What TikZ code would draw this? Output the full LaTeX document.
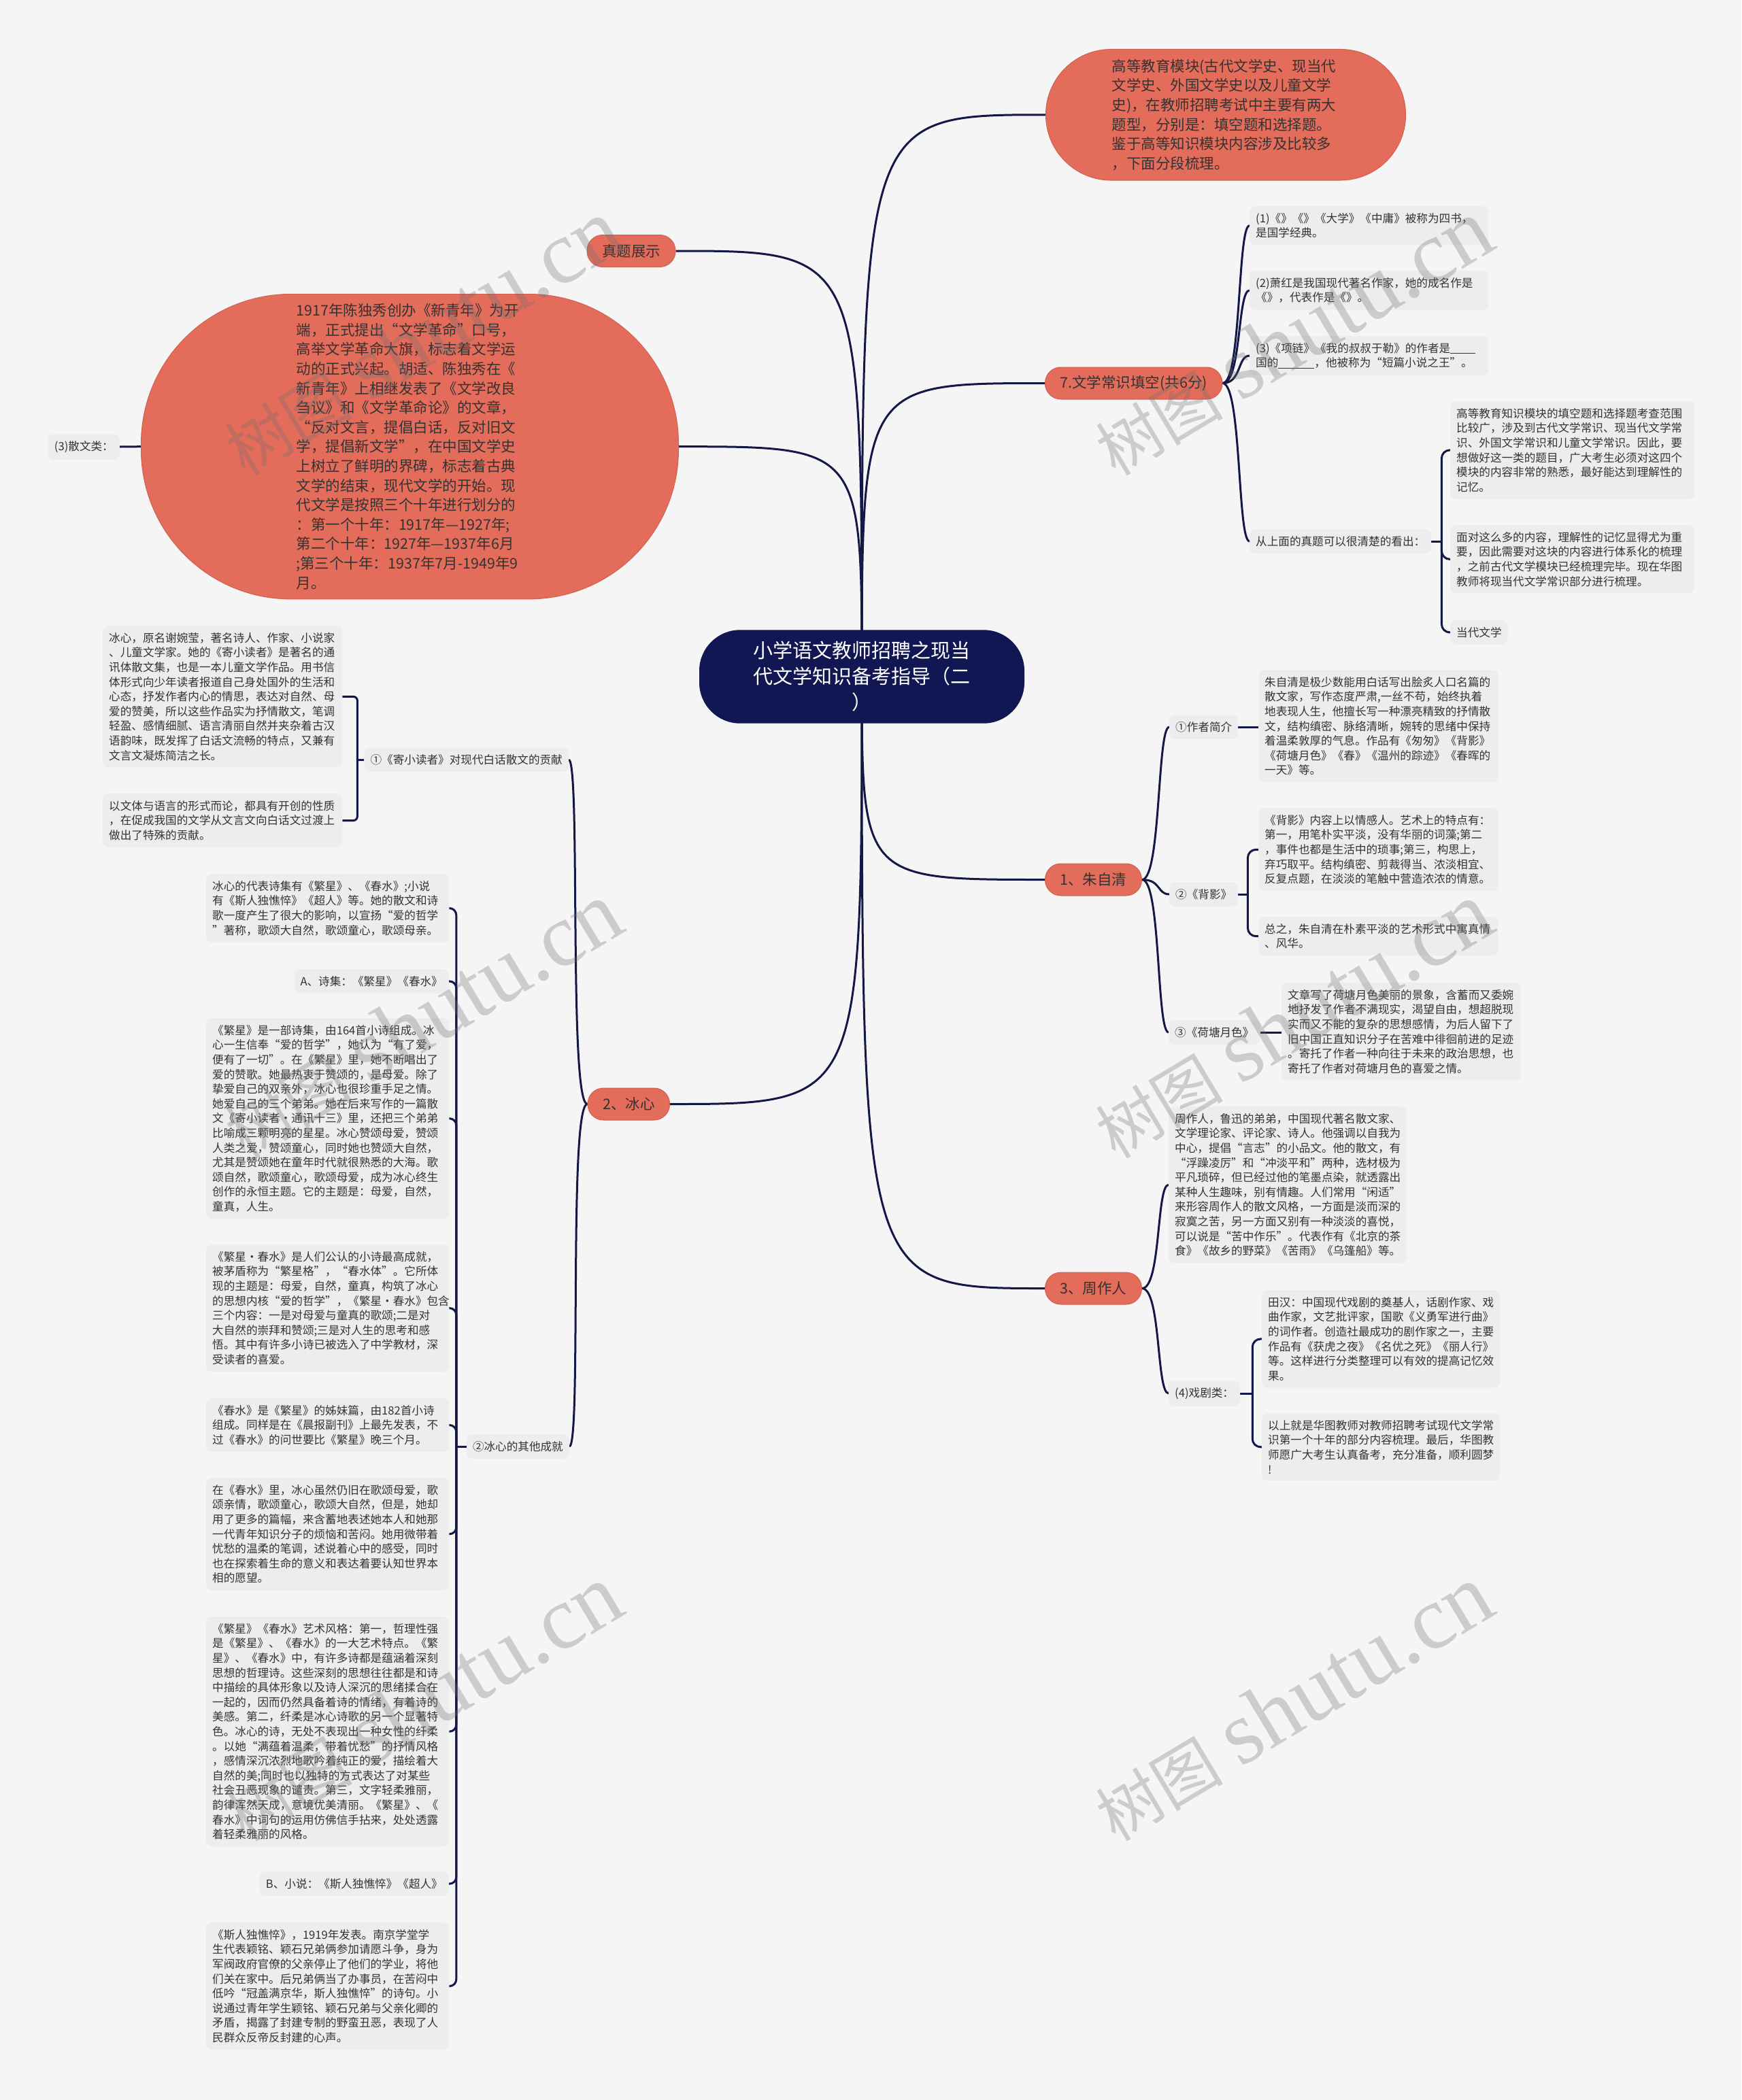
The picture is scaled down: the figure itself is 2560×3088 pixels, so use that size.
\documentclass[tikz,border=0pt]{standalone}
\usepackage{fontspec}
\newfontfamily\cjk{Noto Sans CJK SC}
\newfontfamily\wmserif{Liberation Serif}
\usetikzlibrary{backgrounds}
\definecolor{bgc}{RGB}{245,245,245}
\definecolor{navy}{RGB}{17,23,82}
\definecolor{linec}{RGB}{20,24,70}
\definecolor{orng}{RGB}{228,108,90}
\definecolor{orngd}{RGB}{208,96,80}
\definecolor{boxc}{RGB}{237,237,237}
\definecolor{txt}{RGB}{51,51,51}
\definecolor{wmc}{RGB}{110,110,110}
\tikzset{
  conn/.style={draw=linec, line width=3pt},
  leaf/.style={fill=boxc, rounded corners=8pt, inner xsep=9pt, inner ysep=10pt, align=left, text=txt, font={\cjk\fontsize{16.6}{21.6}\selectfont}},
  onode/.style={fill=orng, draw=orngd, line width=1pt, text=txt, font={\cjk\fontsize{21.5}{28.5}\selectfont}, inner xsep=22pt, inner ysep=8pt, minimum height=47pt, rounded corners=23pt},
  obig/.style={fill=orng, draw=orngd, line width=1pt, text=txt, align=left, font={\cjk\fontsize{21.5}{28.6}\selectfont}},
  ctr/.style={fill=navy, text=white, align=center, text width=330pt, inner xsep=74pt, inner ysep=17pt, rounded corners=60pt, font={\cjk\fontsize{29}{38}\selectfont}},
  wmk/.style={text=wmc, text opacity=0.30, inner sep=0pt}
}
\begin{document}
\begin{tikzpicture}[x=1pt,y=-1pt]
\useasboundingbox (0,0) rectangle (2560,3088);

% ---------- centre ----------
\node[ctr] (ct) at (1267,995) {小学语文教师招聘之现当\\代文学知识备考指导（二\\）};

% ---------- top right big orange ----------
\node[obig, anchor=north west, text width=335pt, inner xsep=97pt, inner ysep=14.5pt, rounded corners=96pt] (n0) at (1537,72) {高等教育模块(古代文学史、现当代\\文学史、外国文学史以及儿童文学\\史)，在教师招聘考试中主要有两大\\题型，分别是：填空题和选择题。\\鉴于高等知识模块内容涉及比较多\\，下面分段梳理。};

% ---------- left big orange ----------
\node[obig, anchor=north west, text width=334pt, inner xsep=228pt, inner ysep=14pt, rounded corners=220pt] (bo) at (207,432) {1917年陈独秀创办《新青年》为开\\端，正式提出“文学革命”口号，\\高举文学革命大旗，标志着文学运\\动的正式兴起。胡适、陈独秀在《\\新青年》上相继发表了《文学改良\\刍议》和《文学革命论》的文章，\\“反对文言，提倡白话，反对旧文\\学，提倡新文学”，在中国文学史\\上树立了鲜明的界碑，标志着古典\\文学的结束，现代文学的开始。现\\代文学是按照三个十年进行划分的\\：第一个十年：1917年—1927年;\\第二个十年：1927年—1937年6月\\;第三个十年：1937年7月-1949年9\\月。};
\node[leaf, anchor=east] (sanwen) at (176,657) {(3)散文类：};

\node[onode] (zt) at (928,369) {真题展示};

% ---------- main branches ----------
\node[onode, anchor=west] (n7) at (1536,563.5) {7.文学常识填空(共6分)};
\node[onode, anchor=west] (n1) at (1536,1293.5) {1、朱自清};
\node[onode, anchor=west] (n3) at (1536,1894.5) {3、周作人};
\node[onode, anchor=east] (n2) at (985,1623.5) {2、冰心};

% ---------- 7. branch ----------
\node[leaf, anchor=north west, text width=333pt] (q1) at (1837,303) {(1)《》《》《大学》《中庸》被称为四书，\\是国学经典。};
\node[leaf, anchor=north west, text width=333pt] (q2) at (1837,398) {(2)萧红是我国现代著名作家，她的成名作是\\《》，代表作是《》。};
\node[leaf, anchor=north west, text width=333pt] (q3) at (1837,494) {(3)《项链》《我的叔叔于勒》的作者是\rule[-2pt]{37pt}{1pt}\\国的\rule[-2pt]{53pt}{1pt}，他被称为“短篇小说之王”。};
\node[leaf, anchor=west] (qs) at (1837,796) {从上面的真题可以很清楚的看出：};
\node[leaf, anchor=north west, text width=341pt] (r1) at (2132,590) {高等教育知识模块的填空题和选择题考查范围\\比较广，涉及到古代文学常识、现当代文学常\\识、外国文学常识和儿童文学常识。因此，要\\想做好这一类的题目，广大考生必须对这四个\\模块的内容非常的熟悉，最好能达到理解性的\\记忆。};
\node[leaf, anchor=north west, text width=341pt] (r2) at (2132,772) {面对这么多的内容，理解性的记忆显得尤为重\\要，因此需要对这块的内容进行体系化的梳理\\，之前古代文学模块已经梳理完毕。现在华图\\教师将现当代文学常识部分进行梳理。};
\node[leaf, anchor=north west] (r3) at (2132,912) {当代文学};

% ---------- 朱自清 branch ----------
\node[leaf, anchor=north west, text width=334pt] (a1t) at (1850,985) {朱自清是极少数能用白话写出脍炙人口名篇的\\散文家，写作态度严肃,一丝不苟，始终执着\\地表现人生，他擅长写一种漂亮精致的抒情散\\文，结构缜密、脉络清晰，婉转的思绪中保持\\着温柔敦厚的气息。作品有《匆匆》《背影》\\《荷塘月色》《春》《温州的踪迹》《春晖的\\一天》等。};
\node[leaf, anchor=west] (a1) at (1719,1069) {①作者简介};
\node[leaf, anchor=west] (a2) at (1719,1315) {②《背影》};
\node[leaf, anchor=north west, text width=334pt] (a2t1) at (1850,1188) {《背影》内容上以情感人。艺术上的特点有：\\第一，用笔朴实平淡，没有华丽的词藻;第二\\，事件也都是生活中的琐事;第三，构思上，\\弃巧取平。结构缜密、剪裁得当、浓淡相宜、\\反复点题，在淡淡的笔触中营造浓浓的情意。};
\node[leaf, anchor=north west, text width=334pt] (a2t2) at (1850,1348) {总之，朱自清在朴素平淡的艺术形式中寓真情\\、风华。};
\node[leaf, anchor=west] (a3) at (1718,1518) {③《荷塘月色》};
\node[leaf, anchor=north west, text width=334pt] (a3t) at (1884,1445) {文章写了荷塘月色美丽的景象，含蓄而又委婉\\地抒发了作者不满现实，渴望自由，想超脱现\\实而又不能的复杂的思想感情，为后人留下了\\旧中国正直知识分子在苦难中徘徊前进的足迹\\。寄托了作者一种向往于未来的政治思想，也\\寄托了作者对荷塘月色的喜爱之情。};

% ---------- 周作人 branch ----------
\node[leaf, anchor=north west, text width=332pt] (b1) at (1718,1627) {周作人，鲁迅的弟弟，中国现代著名散文家、\\文学理论家、评论家、诗人。他强调以自我为\\中心，提倡“言志”的小品文。他的散文，有\\“浮躁凌厉”和“冲淡平和”两种，选材极为\\平凡琐碎，但已经过他的笔墨点染，就透露出\\某种人生趣味，别有情趣。人们常用“闲适”\\来形容周作人的散文风格，一方面是淡而深的\\寂寞之苦，另一方面又别有一种淡淡的喜悦，\\可以说是“苦中作乐”。代表作有《北京的茶\\食》《故乡的野菜》《苦雨》《乌篷船》等。};
\node[leaf, anchor=west] (b2) at (1718,2049) {(4)戏剧类：};
\node[leaf, anchor=north west, text width=332pt] (tian) at (1855,1897) {田汉：中国现代戏剧的奠基人，话剧作家、戏\\曲作家，文艺批评家，国歌《义勇军进行曲》\\的词作者。创造社最成功的剧作家之一，主要\\作品有《获虎之夜》《名优之死》《丽人行》\\等。这样进行分类整理可以有效的提高记忆效\\果。};
\node[leaf, anchor=north west, text width=332pt] (yis) at (1855,2078) {以上就是华图教师对教师招聘考试现代文学常\\识第一个十年的部分内容梳理。最后，华图教\\师愿广大考生认真备考，充分准备，顺利圆梦\\!};

% ---------- 冰心 branch ----------
\node[leaf, anchor=east] (c1) at (836,1117) {①《寄小读者》对现代白话散文的贡献};
\node[leaf, anchor=north west, text width=334pt] (e1) at (151,920) {冰心，原名谢婉莹，著名诗人、作家、小说家\\、儿童文学家。她的《寄小读者》是著名的通\\讯体散文集，也是一本儿童文学作品。用书信\\体形式向少年读者报道自己身处国外的生活和\\心态，抒发作者内心的情思，表达对自然、母\\爱的赞美，所以这些作品实为抒情散文，笔调\\轻盈、感情细腻、语言清丽自然并夹杂着古汉\\语韵味，既发挥了白话文流畅的特点，又兼有\\文言文凝炼简洁之长。};
\node[leaf, anchor=north west, text width=334pt] (e2) at (151,1167) {以文体与语言的形式而论，都具有开创的性质\\，在促成我国的文学从文言文向白话文过渡上\\做出了特殊的贡献。};

\node[leaf, anchor=east] (c2) at (837,2127) {②冰心的其他成就};
\node[leaf, anchor=north west, text width=339pt] (d1) at (303,1285) {冰心的代表诗集有《繁星》、《春水》;小说\\有《斯人独憔悴》《超人》等。她的散文和诗\\歌一度产生了很大的影响，以宣扬“爱的哲学\\”著称，歌颂大自然，歌颂童心，歌颂母亲。};
\node[leaf, anchor=north east] (d2) at (660,1425) {A、诗集：《繁星》《春水》};
\node[leaf, anchor=north west, text width=339pt] (d3) at (303,1497) {《繁星》是一部诗集，由164首小诗组成。冰\\心一生信奉“爱的哲学”，她认为“有了爱，\\便有了一切”。在《繁星》里，她不断唱出了\\爱的赞歌。她最热衷于赞颂的，是母爱。除了\\挚爱自己的双亲外，冰心也很珍重手足之情。\\她爱自己的三个弟弟。她在后来写作的一篇散\\文《寄小读者·通讯十三》里，还把三个弟弟\\比喻成三颗明亮的星星。冰心赞颂母爱，赞颂\\人类之爱，赞颂童心，同时她也赞颂大自然，\\尤其是赞颂她在童年时代就很熟悉的大海。歌\\颂自然，歌颂童心，歌颂母爱，成为冰心终生\\创作的永恒主题。它的主题是：母爱，自然，\\童真，人生。};
\node[leaf, anchor=north west, text width=339pt] (d4) at (303,1830) {《繁星·春水》是人们公认的小诗最高成就，\\被茅盾称为“繁星格”，“春水体”。它所体\\现的主题是：母爱，自然，童真，构筑了冰心\\的思想内核“爱的哲学”，《繁星·春水》包含\\三个内容：一是对母爱与童真的歌颂;二是对\\大自然的崇拜和赞颂;三是对人生的思考和感\\悟。其中有许多小诗已被选入了中学教材，深\\受读者的喜爱。};
\node[leaf, anchor=north west, text width=339pt] (d5) at (303,2056) {《春水》是《繁星》的姊妹篇，由182首小诗\\组成。同样是在《晨报副刊》上最先发表，不\\过《春水》的问世要比《繁星》晚三个月。};
\node[leaf, anchor=north west, text width=339pt] (d6) at (303,2173) {在《春水》里，冰心虽然仍旧在歌颂母爱，歌\\颂亲情，歌颂童心，歌颂大自然，但是，她却\\用了更多的篇幅，来含蓄地表述她本人和她那\\一代青年知识分子的烦恼和苦闷。她用微带着\\忧愁的温柔的笔调，述说着心中的感受，同时\\也在探索着生命的意义和表达着要认知世界本\\相的愿望。};
\node[leaf, anchor=north west, text width=339pt] (d7) at (303,2377) {《繁星》《春水》艺术风格：第一，哲理性强\\是《繁星》、《春水》的一大艺术特点。《繁\\星》、《春水》中，有许多诗都是蕴涵着深刻\\思想的哲理诗。这些深刻的思想往往都是和诗\\中描绘的具体形象以及诗人深沉的思绪揉合在\\一起的，因而仍然具备着诗的情绪，有着诗的\\美感。第二，纤柔是冰心诗歌的另一个显著特\\色。冰心的诗，无处不表现出一种女性的纤柔\\。以她“满蕴着温柔，带着忧愁”的抒情风格\\，感情深沉浓烈地歌吟着纯正的爱，描绘着大\\自然的美;同时也以独特的方式表达了对某些\\社会丑恶现象的谴责。第三，文字轻柔雅丽，\\韵律浑然天成，意境优美清丽。《繁星》、《\\春水》中词句的运用仿佛信手拈来，处处透露\\着轻柔雅丽的风格。};
\node[leaf, anchor=north east] (d8) at (660,2752) {B、小说：《斯人独憔悴》《超人》};
\node[leaf, anchor=north west, text width=339pt] (d9) at (303,2827) {《斯人独憔悴》，1919年发表。南京学堂学\\生代表颖铭、颖石兄弟俩参加请愿斗争，身为\\军阀政府官僚的父亲停止了他们的学业，将他\\们关在家中。后兄弟俩当了办事员，在苦闷中\\低吟“冠盖满京华，斯人独憔悴”的诗句。小\\说通过青年学生颖铭、颖石兄弟与父亲化卿的\\矛盾，揭露了封建专制的野蛮丑恶，表现了人\\民群众反帝反封建的心声。};

% ---------- watermarks ----------
\foreach \wx/\wy [count=\wi] in {360/702,1640/702,360/1706,1640/1706,360/2710,1640/2710}{
  \node[wmk, rotate=31, anchor=base west] (wm\wi) at (\wx,\wy) {{\cjk\fontsize{94}{94}\selectfont 树图}\hspace{26pt}{\wmserif\fontsize{132}{132}\selectfont shutu.cn}};
}

% ---------- connectors ----------
\begin{scope}[on background layer]
\fill[bgc] (0,0) rectangle (2560,3088);
\draw[conn] (ct.center) .. controls (ct.center |- n0.west) .. (n0.west);
\draw[conn] (ct.center) .. controls (ct.center |- zt.east) .. (zt.east);
\draw[conn] (ct.center) .. controls (ct.center |- bo.east) .. (bo.east);
\draw[conn] (ct.center) .. controls (ct.center |- n7.west) .. (n7.west);
\draw[conn] (ct.center) .. controls (ct.center |- n1.west) .. (n1.west);
\draw[conn] (ct.center) .. controls (ct.center |- n3.west) .. (n3.west);
\draw[conn] (ct.center) .. controls (ct.center |- n2.east) .. (n2.east);
\draw[conn] (bo.west) -- (sanwen.east);
% 7.
\foreach \c in {q1,q2,q3,qs}
  \draw[conn] (n7.east) .. controls +(28,0) and +(-18,0) .. (\c.west);
\draw[conn] (qs.east) -- ++(15,0) coordinate (qsj);
\foreach \c in {r1,r2,r3}
  \draw[conn, rounded corners=12pt] (qsj) |- (\c.west);
% 1.
\foreach \c in {a1,a2,a3}
  \draw[conn] (n1.east) .. controls +(28,0) and +(-18,0) .. (\c.west);
\draw[conn] (a1.east) -- (a1.east -| a1t.west);
\draw[conn] (a3.east) -- (a3.east -| a3t.west);
\draw[conn] (a2.east) -- ++(14,0) coordinate (a2j);
\foreach \c in {a2t1,a2t2}
  \draw[conn, rounded corners=12pt] (a2j) |- (\c.west);
% 3.
\foreach \c in {b1,b2}
  \draw[conn] (n3.east) .. controls +(28,0) and +(-18,0) .. (\c.west);
\draw[conn] (b2.east) -- ++(18,0) coordinate (b2j);
\foreach \c in {tian,yis}
  \draw[conn, rounded corners=12pt] (b2j) |- (\c.west);
% 2.
\foreach \c in {c1,c2}
  \draw[conn] (n2.west) .. controls +(-28,0) and +(18,0) .. (\c.east);
\draw[conn] (c1.west) -- ++(-10,0) coordinate (c1j);
\foreach \c in {e1,e2}
  \draw[conn, rounded corners=6pt] (c1j) |- (\c.east);
\draw[conn] (c2.west) -- ++(-15,0) coordinate (c2j);
\foreach \c in {d1,d2,d3,d4,d5,d6,d7,d8,d9}
  \draw[conn, rounded corners=10pt] (c2j) |- (\c.east);
\end{scope}
\end{tikzpicture}
\end{document}
